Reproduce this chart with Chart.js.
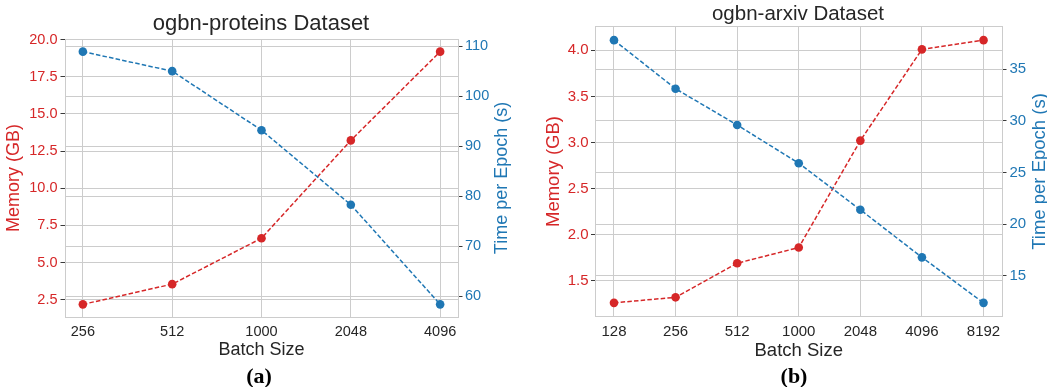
<!DOCTYPE html>
<html>
<head>
<meta charset="utf-8">
<title>Batch size: memory and time per epoch</title>
<script src="https://cdn.jsdelivr.net/npm/chart.js@4.4.1/dist/chart.umd.min.js"></script>
<style>
  html, body { margin: 0; padding: 0; background: #ffffff; width: 1047px; height: 387px; overflow: hidden; }
  .panel { position: absolute; top: 0; height: 387px; }
  .caption {
    position: absolute;
    font-family: "Liberation Serif", "Times New Roman", serif;
    font-weight: bold;
    font-size: 22px;
    line-height: 1;
    color: #000000;
    transform: translate(-50%, -50%);
    white-space: nowrap;
  }
</style>
</head>
<body>
<div class="panel" style="left:0px;width:522px"><canvas id="proteinsChart"></canvas></div>
<div class="panel" style="left:520px;width:556px"><canvas id="arxivChart"></canvas></div>
<div class="caption" style="left:259px;top:376px">(a)</div>
<div class="caption" style="left:794px;top:376px">(b)</div>

<script>
// ogbn-proteins
const proteinsBatchSizes = ['256', '512', '1000', '2048', '4096'];
const proteinsMemoryGB = [2.19, 3.55, 6.64, 13.22, 19.19];
const proteinsEpochTime = [108.9, 105.0, 93.2, 78.3, 58.4];
const proteinsMemoryTicks = [2.5, 5.0, 7.5, 10.0, 12.5, 15.0, 17.5, 20.0];
const proteinsTimeTicks = [60, 70, 80, 90, 100, 110];

// ogbn-arxiv
const arxivBatchSizes = ['128', '256', '512', '1000', '2048', '4096', '8192'];
const arxivMemoryGB = [1.26, 1.32, 1.69, 1.86, 3.02, 4.01, 4.11];
const arxivEpochTime = [37.8, 33.1, 29.6, 25.9, 21.4, 16.8, 12.4];
const arxivMemoryTicks = [1.5, 2.0, 2.5, 3.0, 3.5, 4.0];
const arxivTimeTicks = [15, 20, 25, 30, 35];

const SANS = '"Liberation Sans", Arial, Helvetica, sans-serif';
const RED = '#d62728';
const BLUE = '#1f77b4';
const TEXT = '#262626';
const GRID = '#cccccc';
const TICK_MARK = '#3a3a3a';

// 5% margin around the data, like an autoscaled axis
function paddedRange(values, frac) {
  const lo = Math.min(...values), hi = Math.max(...values);
  const m = (hi - lo) * frac;
  return { min: lo - m, max: hi + m };
}

// Title of the right-hand axis, read bottom-to-top like the left one
const rightAxisTitle = {
  id: 'rightAxisTitle',
  afterDraw(chart, args, opts) {
    const area = chart.chartArea;
    const ctx = chart.ctx;
    ctx.save();
    ctx.translate(area.right + opts.offset, (area.top + area.bottom) / 2);
    ctx.rotate(-Math.PI / 2);
    ctx.font = opts.size + 'px ' + SANS;
    ctx.fillStyle = opts.color;
    ctx.textAlign = 'center';
    ctx.textBaseline = 'middle';
    ctx.fillText(opts.text, 0, 0);
    ctx.restore();
  }
};

function buildChart(canvasId, g) {
  const n = g.batches.length;
  const xMargin = (n - 1) * 0.05;
  const memRange = paddedRange(g.memory, 0.05);
  const timeRange = paddedRange(g.time, 0.05);
  const points = arr => arr.map((v, i) => ({ x: i, y: v }));
  const xTicks = scale => { scale.ticks = g.batches.map((_, i) => ({ value: i })); };

  return new Chart(document.getElementById(canvasId), {
    type: 'line',
    data: {
      datasets: [
        {
          label: 'Time per Epoch (s)',
          data: points(g.time),
          yAxisID: 'y1',
          order: 0,
          borderColor: BLUE,
          backgroundColor: BLUE,
          borderWidth: 1.5,
          borderDash: [4.5, 2.2],
          pointRadius: 4.3,
          pointBorderWidth: 0,
          pointBackgroundColor: BLUE,
          tension: 0,
          fill: false
        },
        {
          label: 'Memory (GB)',
          data: points(g.memory),
          yAxisID: 'y',
          order: 1,
          borderColor: RED,
          backgroundColor: RED,
          borderWidth: 1.5,
          borderDash: [4.5, 2.2],
          pointRadius: 4.3,
          pointBorderWidth: 0,
          pointBackgroundColor: RED,
          tension: 0,
          fill: false
        }
      ]
    },
    options: {
      responsive: true,
      maintainAspectRatio: false,
      animation: false,
      events: [],
      layout: { autoPadding: false, padding: { left: 0, right: 0, top: 0, bottom: g.bottomPad } },
      plugins: {
        legend: { display: false },
        tooltip: { enabled: false },
        title: {
          display: true,
          text: g.title,
          color: TEXT,
          font: { family: SANS, size: g.titleSize, weight: 'normal', lineHeight: 1.2 },
          padding: { top: g.titlePadTop, bottom: g.titlePadBottom }
        },
        rightAxisTitle: { text: 'Time per Epoch (s)', color: BLUE, size: g.labelSize, offset: g.rightTitleOffset }
      },
      scales: {
        x: {
          type: 'linear',
          position: 'bottom',
          min: -xMargin,
          max: (n - 1) + xMargin,
          afterBuildTicks: xTicks,
          afterFit: s => { s.height = g.xHeight; },
          ticks: {
            color: TEXT,
            font: { family: SANS, size: g.tickSize },
            padding: g.xTickPad,
            maxRotation: 0,
            autoSkip: false,
            callback: v => g.batches[v]
          },
          grid: { color: GRID, lineWidth: 1, drawTicks: false },
          border: { color: GRID, width: 1 },
          title: {
            display: true,
            text: 'Batch Size',
            color: TEXT,
            font: { family: SANS, size: g.labelSize },
            padding: { top: 0, bottom: g.xTitlePad }
          }
        },
        xTop: {
          type: 'linear',
          position: 'top',
          min: -xMargin,
          max: (n - 1) + xMargin,
          afterFit: s => { s.height = 0; },
          ticks: { display: false },
          grid: { display: false, drawTicks: false },
          border: { display: true, color: GRID, width: 1 }
        },
        y: {
          type: 'linear',
          position: 'left',
          min: memRange.min,
          max: memRange.max,
          afterBuildTicks: s => { s.ticks = g.memTicks.map(v => ({ value: v })); },
          afterFit: s => { s.width = g.leftWidth; },
          ticks: {
            color: RED,
            font: { family: SANS, size: g.tickSize },
            padding: g.leftTickPad,
            includeBounds: false,
            callback: v => Number(v).toFixed(1)
          },
          grid: { color: GRID, lineWidth: 1, tickLength: 4.5, tickColor: TICK_MARK, tickWidth: 1 },
          border: { color: GRID, width: 1 },
          title: {
            display: true,
            text: 'Memory (GB)',
            color: RED,
            font: { family: SANS, size: g.labelSize },
            padding: { top: g.leftTitlePad, bottom: 0 }
          }
        },
        y1: {
          type: 'linear',
          position: 'right',
          min: timeRange.min,
          max: timeRange.max,
          afterBuildTicks: s => { s.ticks = g.timeTicks.map(v => ({ value: v })); },
          afterFit: s => { s.width = g.rightWidth; },
          ticks: {
            color: BLUE,
            font: { family: SANS, size: g.tickSize },
            padding: g.rightTickPad,
            includeBounds: false,
            callback: v => String(Math.round(v))
          },
          grid: { color: GRID, lineWidth: 1, tickLength: 4.5, tickColor: TICK_MARK, tickWidth: 1 },
          border: { color: GRID, width: 1 }
        }
      }
    },
    plugins: [rightAxisTitle]
  });
}

buildChart('proteinsChart', {
  title: 'ogbn-proteins Dataset',
  batches: proteinsBatchSizes,
  memory: proteinsMemoryGB,
  time: proteinsEpochTime,
  memTicks: proteinsMemoryTicks,
  timeTicks: proteinsTimeTicks,
  titleSize: 22, titlePadTop: 11.1, titlePadBottom: 1.5,
  tickSize: 14.5, labelSize: 18,
  leftWidth: 65, rightWidth: 64, xHeight: 45, bottomPad: 25,
  xTickPad: 6, xTitlePad: 0.7,
  leftTickPad: 3, rightTickPad: 2.5,
  leftTitlePad: 3.6, rightTitleOffset: 44.4
});

buildChart('arxivChart', {
  title: 'ogbn-arxiv Dataset',
  batches: arxivBatchSizes,
  memory: arxivMemoryGB,
  time: arxivEpochTime,
  memTicks: arxivMemoryTicks,
  timeTicks: arxivTimeTicks,
  titleSize: 20.5, titlePadTop: 1.7, titlePadBottom: 0.7,
  tickSize: 15, labelSize: 18.5,
  leftWidth: 75.5, rightWidth: 74, xHeight: 46, bottomPad: 25,
  xTickPad: 6.5, xTitlePad: 0.4,
  leftTickPad: 2.5, rightTickPad: 3,
  leftTitlePad: 22.6, rightTitleOffset: 37.5
});
</script>
</body>
</html>
